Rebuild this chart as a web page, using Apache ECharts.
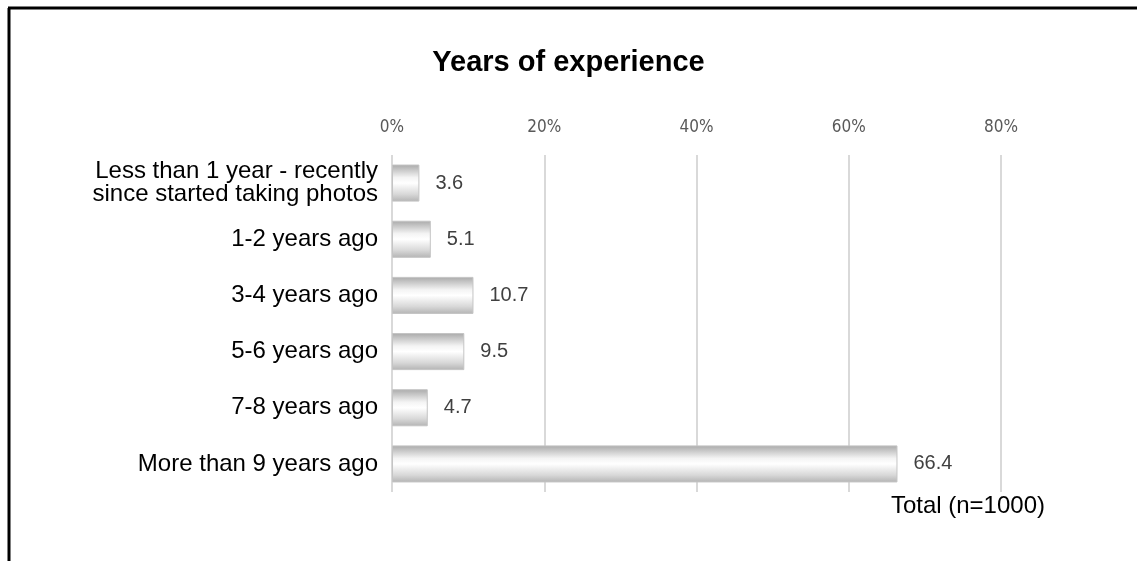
<!DOCTYPE html>
<html>
<head>
<meta charset="utf-8">
<script src="https://cdn.jsdelivr.net/npm/echarts@6/dist/echarts.min.js"></script>
<style>
  html, body { margin: 0; padding: 0; background: #fff; }
  #chart { width: 1137px; height: 561px; }
</style>
</head>
<body>
<div id="chart"></div>
<script>
// Survey answers, top to bottom
const categories = [
  'Less than 1 year - recently\nsince started taking photos',
  '1-2 years ago',
  '3-4 years ago',
  '5-6 years ago',
  '7-8 years ago',
  'More than 9 years ago'
];
const shares = [3.6, 5.1, 10.7, 9.5, 4.7, 66.4];
const percentTicks = [0, 20, 40, 60, 80];

const chart = echarts.init(document.getElementById('chart'));

const barFill = new echarts.graphic.LinearGradient(0, 0, 0, 1, [
  { offset: 0, color: '#a9a9a9' },
  { offset: 0.35, color: '#f4f4f4' },
  { offset: 0.5, color: '#ffffff' },
  { offset: 0.8, color: '#d8d8d8' },
  { offset: 1, color: '#b3b3b3' }
]);

chart.setOption({
  backgroundColor: '#ffffff',
  animation: false,
  title: {
    text: 'Years of experience',
    left: 'center',
    top: 43,
    textStyle: {
      fontFamily: 'Liberation Sans, Arial, sans-serif',
      fontWeight: 'bold',
      fontSize: 29,
      color: '#000'
    }
  },
  graphic: [
    { type: 'line', shape: { x1: 8, y1: 8, x2: 1137, y2: 8 }, style: { stroke: '#000', lineWidth: 3 } },
    { type: 'line', shape: { x1: 9, y1: 8, x2: 9, y2: 561 }, style: { stroke: '#000', lineWidth: 3 } },
    {
      type: 'text', right: 92, top: 494,
      style: { text: 'Total (n=1000)', fontFamily: 'Liberation Sans, Arial, sans-serif', fontSize: 24, fill: '#000' }
    }
  ],
  grid: { left: 392, right: 136, top: 155, bottom: 69 },
  xAxis: {
    type: 'value',
    position: 'top',
    min: percentTicks[0],
    max: percentTicks[percentTicks.length - 1],
    interval: 20,
    axisLine: { show: false },
    axisTick: { show: false },
    splitLine: { show: true, lineStyle: { color: '#d9d9d9', width: 2 } },
    axisLabel: {
      margin: 19,
      fontSize: 17,
      color: '#595959',
      fontFamily: 'Liberation Sans Narrow, Arial Narrow, DejaVu Sans Condensed, sans-serif',
      formatter: v => v + '%'
    }
  },
  yAxis: {
    type: 'category',
    inverse: true,
    data: categories,
    axisLine: { show: false },
    axisTick: { show: false },
    axisLabel: {
      margin: 14,
      fontSize: 24,
      lineHeight: 23,
      color: '#000',
      fontFamily: 'Liberation Sans, Arial, sans-serif',
      align: 'right'
    }
  },
  series: [{
    type: 'bar',
    data: shares,
    barWidth: '66%',
    itemStyle: { color: barFill, borderColor: '#c4c4c4', borderWidth: 1 },
    label: {
      show: true,
      position: 'right',
      distance: 16,
      fontSize: 20,
      color: '#404040',
      fontFamily: 'Liberation Sans, Arial, sans-serif',
      formatter: p => p.value.toFixed(1)
    }
  }]
});
</script>
</body>
</html>
